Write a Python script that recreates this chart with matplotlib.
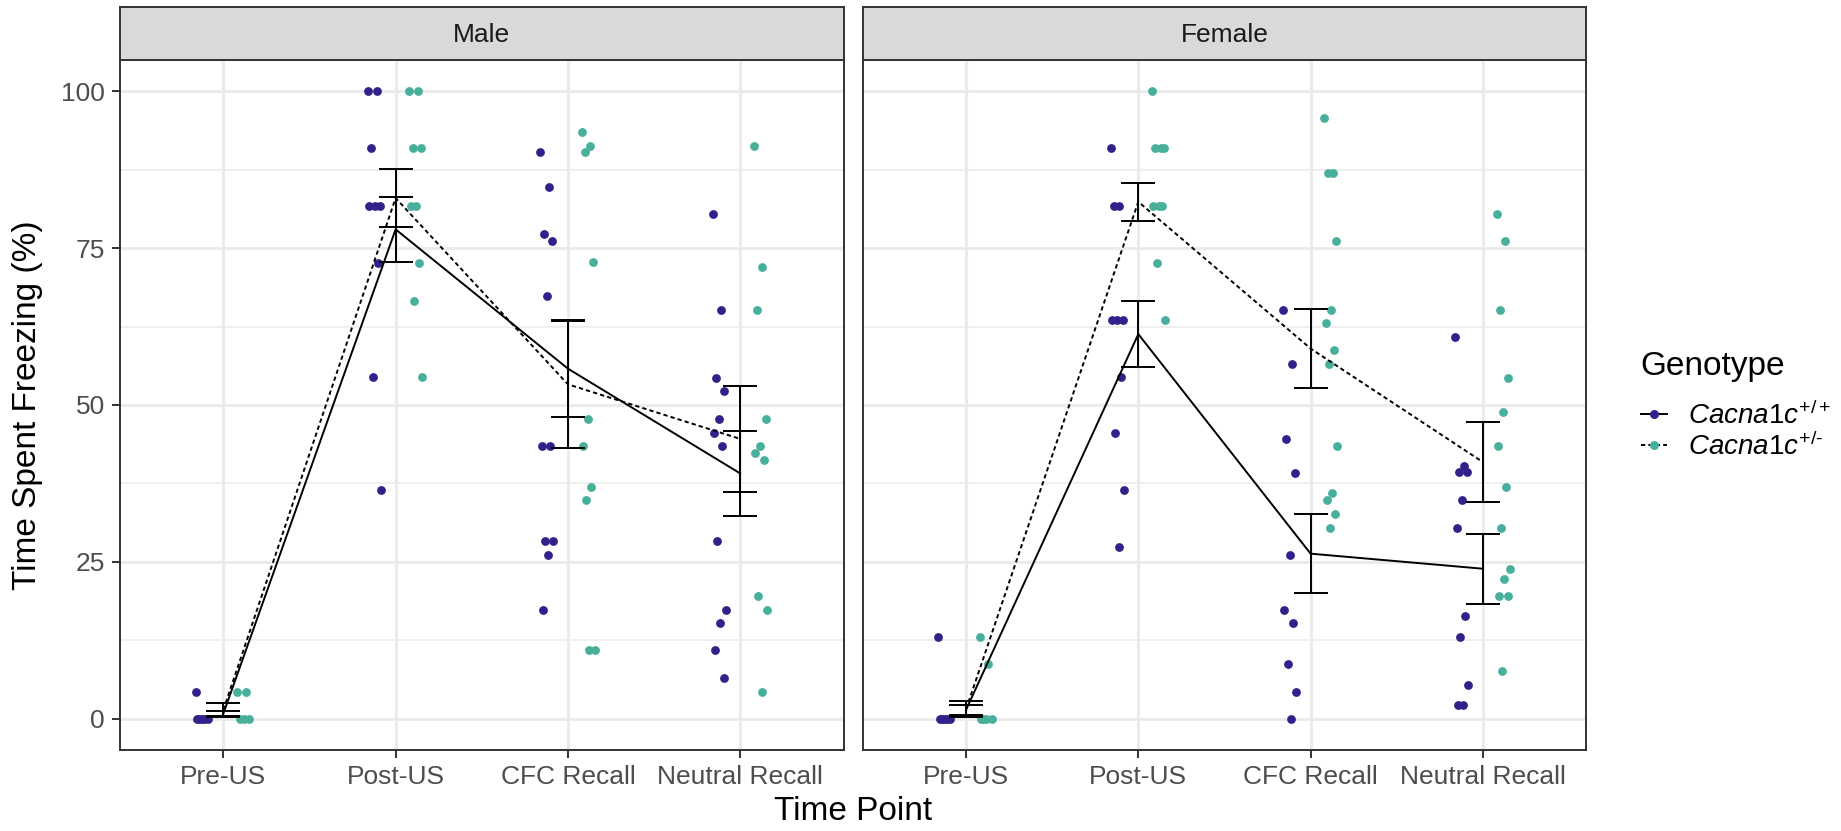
import matplotlib
matplotlib.use("Agg")
import matplotlib.pyplot as plt
from matplotlib.lines import Line2D
import numpy as np

plt.rcParams['font.family'] = ['Liberation Sans', 'DejaVu Sans']
plt.rcParams['mathtext.fontset'] = 'custom'
plt.rcParams['mathtext.rm'] = 'Liberation Sans'
plt.rcParams['mathtext.it'] = 'Liberation Sans:italic'

# ---------------------------------------------------------------------------
# data
# ---------------------------------------------------------------------------
time_points = ['Pre-US', 'Post-US', 'CFC Recall', 'Neutral Recall']
sexes = ['Male', 'Female']
genotype_labels = [r'$\mathit{Cacna1c}^{+/+}$', r'$\mathit{Cacna1c}^{+/\text{-}}$']

# individual animals, one list per time point
male_wt = [
    [4.3, 0, 0, 0, 0, 0],
    [100, 100, 90.9, 81.8, 81.8, 81.8, 72.7, 54.5, 36.4],
    [90.3, 84.8, 77.2, 76.1, 67.4, 43.5, 43.5, 28.3, 28.3, 26.1, 17.3],
    [80.5, 65.2, 54.3, 52.2, 47.8, 45.6, 43.5, 28.3, 17.3, 15.2, 10.9, 6.5],
]
male_het = [
    [4.3, 4.3, 0, 0, 0],
    [100, 100, 90.9, 90.9, 81.8, 81.8, 72.7, 66.6, 54.5],
    [93.5, 91.3, 90.3, 72.8, 47.8, 43.5, 36.9, 34.8, 10.9, 10.9],
    [91.3, 72.0, 65.2, 47.8, 43.5, 42.4, 41.3, 19.5, 17.3, 4.3],
]
female_wt = [
    [13.0, 0, 0, 0, 0, 0],
    [90.9, 81.8, 81.8, 63.6, 63.6, 63.6, 54.5, 45.5, 36.4, 27.3],
    [65.2, 56.5, 44.5, 39.1, 26.1, 17.3, 15.2, 8.7, 4.3, 0],
    [60.9, 40.3, 39.3, 39.3, 34.8, 30.4, 16.3, 13.0, 5.4, 2.2, 2.2],
]
female_het = [
    [13.0, 8.7, 0, 0, 0, 0],
    [100, 90.9, 90.9, 90.9, 81.8, 81.8, 81.8, 72.7, 63.6],
    [95.7, 87.0, 87.0, 76.1, 65.2, 63.1, 58.7, 56.5, 43.5, 35.9, 34.8, 32.6, 30.4],
    [80.5, 76.1, 65.2, 54.3, 48.9, 43.5, 36.9, 30.4, 23.9, 22.2, 19.5, 19.5, 7.6],
]

# group means and standard errors
male_wt_mean = [0.8, 78.0, 55.8, 39.1]
male_wt_se = [0.4, 5.2, 7.7, 6.8]
male_het_mean = [1.4, 83.0, 53.3, 44.6]
male_het_se = [1.1, 4.7, 10.1, 8.4]
female_wt_mean = [1.4, 61.3, 26.3, 23.9]
female_wt_se = [0.8, 5.3, 6.3, 5.6]
female_het_mean = [1.5, 82.4, 59.0, 40.9]
female_het_se = [1.3, 3.0, 6.25, 6.4]

col_wt = '#32218B'
col_het = '#47AF9B'

W, H = 1841, 831
fig = plt.figure(figsize=(W / 100, H / 100), dpi=100)


def fx(px):
    return px / W


def fy(py):
    return 1 - py / H


panel_left = [120, 862.7]
panel_w = 723.5
panel_top, panel_bot = 60, 750
strip_top = 7.3

panels = {
    'Male': (male_wt, male_het, male_wt_mean, male_wt_se, male_het_mean, male_het_se),
    'Female': (female_wt, female_het, female_wt_mean, female_wt_se, female_het_mean, female_het_se),
}


def jitter(n):
    # fixed, repeatable spread so dots don't sit on top of each other
    return ((np.arange(n) * 0.618) % 1 - 0.5) * 0.08


x = np.arange(len(time_points))
for k, sex in enumerate(sexes):
    wt, het, wt_m, wt_se, het_m, het_se = panels[sex]
    ax = fig.add_axes([fx(panel_left[k]), fy(panel_bot), fx(panel_w),
                       (panel_bot - panel_top) / H])
    ax.set_xlim(-0.6, 3.6)
    ax.set_ylim(-5, 105)

    for i in range(len(time_points)):
        ax.scatter(i - 0.12 + jitter(len(wt[i])), wt[i], s=40, color=col_wt,
                   linewidths=0, zorder=3)
        ax.scatter(i + 0.12 + jitter(len(het[i])), het[i], s=40, color=col_het,
                   linewidths=0, zorder=3)

    ax.plot(x, wt_m, color='black', lw=1.4, zorder=4)
    ax.plot(x, het_m, color='black', lw=1.4, ls=(0, (2.2, 1.6)), zorder=4)
    for m, se in ((wt_m, wt_se), (het_m, het_se)):
        ax.errorbar(x, m, yerr=se, fmt='none', ecolor='black', elinewidth=1.4,
                    capsize=12.5, capthick=1.4, zorder=5)

    ax.set_yticks([0, 25, 50, 75, 100])
    ax.set_yticks([12.5, 37.5, 62.5, 87.5], minor=True)
    ax.set_xticks(x)
    ax.set_xticklabels(time_points)
    ax.grid(which='major', color='#EBEBEB', lw=2.2, zorder=0)
    ax.grid(which='minor', axis='y', color='#EBEBEB', lw=1.1, zorder=0)
    ax.set_axisbelow(True)
    ax.tick_params(which='major', length=6, width=1.4, color='#333333',
                   labelsize=19, labelcolor='#4D4D4D', pad=5)
    ax.tick_params(which='minor', length=0)
    if k == 1:
        ax.tick_params(axis='y', which='both', left=False, labelleft=False)
    for sp in ax.spines.values():
        sp.set_color('#333333')
        sp.set_linewidth(1.4)

    # facet strip
    sax = fig.add_axes([fx(panel_left[k]), fy(panel_top), fx(panel_w),
                        (panel_top - strip_top) / H])
    sax.set_facecolor('#D9D9D9')
    sax.set_xticks([])
    sax.set_yticks([])
    for sp in sax.spines.values():
        sp.set_color('#333333')
        sp.set_linewidth(1.4)
    sax.text(0.5, 0.48, sex, ha='center', va='center', fontsize=19,
             color='#1A1A1A', transform=sax.transAxes)

fig.text(fx(853), fy(812), 'Time Point', ha='center', va='center', fontsize=24)
fig.text(fx(28), fy(405), 'Time Spent Freezing (%)', ha='center', va='center',
         rotation=90, fontsize=24)

# legend: title as plain text, keys below it
fig.text(fx(1640), fy(367), 'Genotype', ha='left', va='center', fontsize=24)
handles = [
    Line2D([], [], color='black', lw=1.4, marker='o', markersize=6.5,
           markerfacecolor=col_wt, markeredgewidth=0),
    Line2D([], [], color='black', lw=1.4, ls=(0, (2.2, 1.6)), marker='o',
           markersize=6.5, markerfacecolor=col_het, markeredgewidth=0),
]
leg = fig.legend(handles, genotype_labels, loc='center left',
                 bbox_to_anchor=(fx(1641), fy(431)), frameon=False,
                 fontsize=20, handlelength=0.95, handletextpad=0.75,
                 labelspacing=0.1, borderpad=0, borderaxespad=0)

fig.savefig('out.png', dpi=100)
